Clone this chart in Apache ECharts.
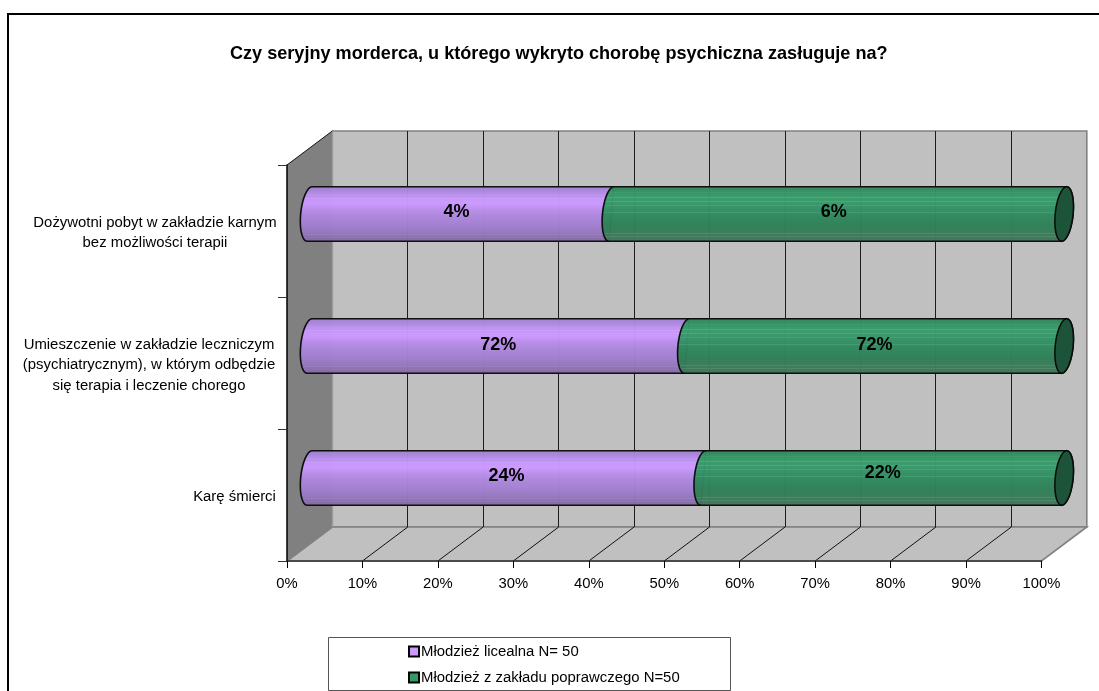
<!DOCTYPE html>
<html><head><meta charset="utf-8">
<style>html,body{margin:0;padding:0;background:#fff}#c{width:1099px;height:691px}</style>
<script src="https://cdn.jsdelivr.net/npm/echarts@6/dist/echarts.min.js"></script>
</head><body><div id="c"></div>
<script>
const titleText = 'Czy seryjny morderca, u którego wykryto chorobę psychiczna zasługuje na?';
const categories = [
  'Karę śmierci',
  'Umieszczenie w zakładzie leczniczym\n(psychiatrycznym), w którym odbędzie\nsię terapia i leczenie chorego',
  'Dożywotni pobyt w zakładzie karnym\nbez możliwości terapii'
];
const seriesNames = ['Młodzież licealna N= 50', 'Młodzież z zakładu poprawczego N=50'];
const licealna = [24, 72, 4];
const poprawczy = [22, 72, 6];
const tickValues = [0, 10, 20, 30, 40, 50, 60, 70, 80, 90, 100];

// 3-D look
const DX = 45.3, DY = -34;
const FONT = '"Liberation Sans", Arial, sans-serif';
const labelWidths = [85, 256, 244];
const purpleNudge = [[0, -2], [0, -1], [-4, -2]];
const greenNudge = [[-1, -5], [-1, -1], [-4, -2]];
const purpleStops = [[0,'#9e7fce'],[.08,'#a986dc'],[.16,'#bb90ee'],[.24,'#c796fa'],[.32,'#cc99ff'],[.42,'#bb8eec'],[.55,'#ac86dc'],[.7,'#a27fd0'],[.85,'#9275ba'],[1,'#82689f']];
const greenStops  = [[0,'#2f8159'],[.1,'#339263'],[.2,'#379b69'],[.3,'#37996a'],[.42,'#339064'],[.55,'#2f875c'],[.7,'#2d8056'],[.85,'#3a7a5a'],[1,'#44735b']];
const capColor = '#1d5338';

function stripes(stops, light, amount) {
  const out = [];
  stops.forEach(s => out.push({offset: s[0], color: s[1]}));
  // fine raster banding of the cylinder shading
  light.forEach(o => {
    out.push({offset: o - .004, color: sample(stops, o - .004)});
    out.push({offset: o, color: lighten(sample(stops, o), amount)});
    out.push({offset: o + .008, color: lighten(sample(stops, o), amount)});
    out.push({offset: o + .012, color: sample(stops, o + .012)});
  });
  out.sort((a, b) => a.offset - b.offset);
  return out;
}
function hex(c){return [1,3,5].map(i=>parseInt(c.substr(i,2),16));}
function toHex(a){return '#'+a.map(v=>Math.max(0,Math.min(255,Math.round(v))).toString(16).padStart(2,'0')).join('');}
function lighten(c,d){return toHex(hex(c).map(v=>v+d));}
function sample(stops,o){
  for(let i=1;i<stops.length;i++){ if(o<=stops[i][0]){
    const t=(o-stops[i-1][0])/(stops[i][0]-stops[i-1][0]);
    const a=hex(stops[i-1][1]),b=hex(stops[i][1]);
    return toHex(a.map((v,k)=>v+(b[k]-v)*t));
  }}
  return stops[stops.length-1][1];
}
const grad = (stops, light, amount) => ({type:'linear',x:0,y:0,x2:0,y2:1,colorStops:stripes(stops, light, amount)});
const purpleFill = grad(purpleStops, [.16,.22,.28,.8,.86,.92], 8);
const greenFill  = grad(greenStops,  [.12,.2,.27,.35,.47,.78,.84,.9], 14);

function shares(i){ const t = licealna[i] + poprawczy[i]; return [licealna[i]/t*100, poprawczy[i]/t*100]; }
const purpleData = categories.map((c,i)=>[i, 0, shares(i)[0], licealna[i]]);
const greenData  = categories.map((c,i)=>[i, shares(i)[0], 100, poprawczy[i]]);

function arc(cx, cy, rx, ry, sk, a0, a1, pts){
  const n = 24;
  for(let k=0;k<=n;k++){
    const t=(a0+(a1-a0)*k/n)*Math.PI/180;
    pts.push([cx+rx*Math.cos(t)+sk*Math.sin(t), cy+ry*Math.sin(t)]);
  }
}
function cylinder(fill, withCap, nudge){
  return function(params, api){
    const i = api.value(0);
    const a = api.coord([api.value(1), i]);
    const b = api.coord([api.value(2), i]);
    const ry = api.size([0,1])[1]*0.414/2, rx = 9, sk = -2.5;
    const ox = DX/2, oy = DY/2;
    const x0=a[0]+ox, x1=b[0]+ox, y=a[1]+oy;
    // the purple segment's far end is hidden by the green one, so it stays flat
    const pts=[]; arc(x1,y,withCap?rx:0,ry,sk,-90,90,pts); arc(x0,y,rx,ry,sk,90,270,pts);
    const children=[{type:'polygon',shape:{points:pts},
      style:{fill:fill,stroke:'#0a0a0a',lineWidth:1.6,opacity:.97}}];
    if(withCap){
      const cp=[]; arc(x1,y,rx,ry,sk,0,360,cp);
      children.push({type:'polygon',shape:{points:cp},style:{fill:capColor,stroke:'#0a0a0a',lineWidth:1.5}});
    }
    const n = nudge[i];
    children.push({type:'text',z2:10,style:{
      text: api.value(3)+'%', x:(x0+x1)/2+n[0], y:y+n[1],
      align:'center', verticalAlign:'middle',
      font:'bold 18px '+FONT, fill:'#000'}});
    return {type:'group',children};
  };
}
function walls(params, api){
  const g = params.coordSys, L=g.x, R=g.x+g.width, T=g.y, B=g.y+g.height;
  const ch=[];
  const bg='#c0c0c0', edge='#808080';
  ch.push({type:'polygon',shape:{points:[[L+DX,T+DY],[R+DX,T+DY],[R+DX,B+DY],[L+DX,B+DY]]},style:{fill:bg,stroke:edge,lineWidth:1.6}});
  ch.push({type:'polygon',shape:{points:[[L,B],[R,B],[R+DX,B+DY],[L+DX,B+DY]]},style:{fill:bg,stroke:edge,lineWidth:1.6}});
  ch.push({type:'polygon',shape:{points:[[L,T],[L+DX,T+DY],[L+DX,B+DY],[L,B]]},style:{fill:'#808080',stroke:null}});
  ch.push({type:'line',shape:{x1:L,y1:T,x2:L+DX,y2:T+DY},style:{stroke:'#111',lineWidth:1}});
  tickValues.slice(1,-1).forEach(v=>{
    const x=api.coord([v,0])[0];
    ch.push({type:'line',shape:{x1:Math.floor(x+DX)+.5,y1:T+DY,x2:Math.floor(x+DX)+.5,y2:B+DY},style:{stroke:'#1c1c1c',lineWidth:1}});
    ch.push({type:'line',shape:{x1:x+DX,y1:B+DY,x2:x,y2:B},style:{stroke:'#111',lineWidth:1}});
  });
  ch.push({type:'line',shape:{x1:L+DX,y1:T+DY,x2:L+DX,y2:B+DY},style:{stroke:'#a0a0a0',lineWidth:1}});
  return {type:'group',children:ch};
}
const rich = {};
labelWidths.forEach((w,i)=>{ rich['l'+i]={width:w,align:'center',fontFamily:FONT,fontSize:14.9,lineHeight:20.5,color:'#000'}; });

const chart = echarts.init(document.getElementById('c'),null,{renderer:'canvas'});
chart.setOption({
  animation:false, backgroundColor:'#fff',
  title:{text:titleText,left:230,top:44,textStyle:{fontFamily:FONT,fontWeight:'bold',fontSize:18.1,color:'#000',lineHeight:20},padding:0},
  grid:{left:287,top:165,width:754.5,height:396,containLabel:false},
  xAxis:{type:'value',min:0,max:100,interval:10,z:5,splitLine:{show:false},
    axisLine:{show:true,lineStyle:{color:'#333',width:1.5}},
    axisTick:{show:true,length:7,lineStyle:{color:'#000',width:1}},
    axisLabel:{formatter:'{value}%',margin:15,fontFamily:FONT,fontSize:14.8,color:'#000'}},
  yAxis:{type:'category',data:categories,z:5,
    axisLine:{show:true,lineStyle:{color:'#000',width:1.5}},
    axisTick:{show:true,length:9,alignWithLabel:false,lineStyle:{color:'#333',width:1}},
    axisLabel:{margin:10,interval:0,align:'right',padding:[4,0,0,0],
      formatter:(v,i)=>v.split('\n').map(l=>'{l'+i+'|'+l+'}').join('\n'),rich}},
  legend:{show:true,orient:'vertical',left:403,top:639,itemWidth:10,itemHeight:10,itemGap:11,icon:'rect',
    data:seriesNames,selectedMode:false,
    textStyle:{fontFamily:FONT,fontSize:14.9,color:'#000',padding:[0,0,0,-3]}},
  graphic:[
    {type:'rect',z:-1,shape:{x:8,y:14,width:1110,height:700},style:{fill:'#fff',stroke:'#000',lineWidth:2}},
    {type:'rect',z:-1,shape:{x:328.5,y:637.5,width:402,height:53},style:{fill:'#fff',stroke:'#555',lineWidth:1}}
  ],
  series:[
    {type:'custom',name:'walls',z:1,silent:true,renderItem:walls,data:[[0,0,0,0]],encode:{x:1,y:0},clip:false},
    {type:'custom',name:seriesNames[0],z:3,renderItem:cylinder(purpleFill,false,purpleNudge),data:purpleData,encode:{x:[1,2],y:0},clip:false,
      itemStyle:{color:'#cc99ff',borderColor:'#000',borderWidth:1}},
    {type:'custom',name:seriesNames[1],z:4,renderItem:cylinder(greenFill,true,greenNudge),data:greenData,encode:{x:[1,2],y:0},clip:false,
      itemStyle:{color:'#339966',borderColor:'#000',borderWidth:1}}
  ]
});
</script></body></html>
